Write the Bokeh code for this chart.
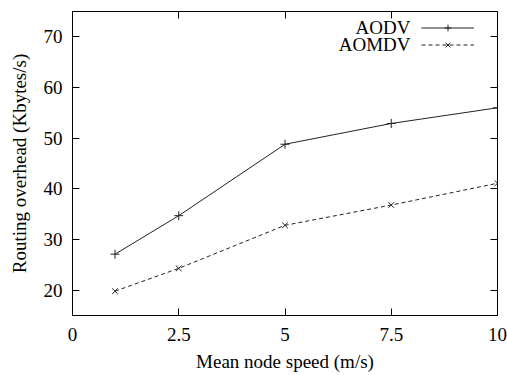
from bokeh.plotting import figure
from bokeh.models import (FixedTicker, LinearAxis, Legend, LegendItem, Label, Range1d)
from bokeh.embed import file_html
from bokeh.resources import INLINE

speeds = [1, 2.5, 5, 7.5, 10]
aodv = [27.1, 34.7, 48.8, 52.9, 56.0]
aomdv = [19.8, 24.3, 32.8, 36.8, 41.1]
x_ticks = [0, 2.5, 5, 7.5, 10]
x_tick_labels = ["0", "2.5", "5", "7.5", "10"]
y_ticks = [20, 30, 40, 50, 60, 70]

FONT = "Liberation Serif"
FS = "19px"

p = figure(width=507, height=375, output_backend="svg", toolbar_location=None,
           x_range=Range1d(0, 10), y_range=Range1d(15, 75),
           min_border_left=72, min_border_right=10, min_border_top=11, min_border_bottom=60)
p.grid.visible = False
p.outline_line_color = "black"
p.outline_line_width = 1
p.background_fill_color = "white"
p.border_fill_color = "white"

def style_axis(ax, ticks, labels=True):
    ax.ticker = FixedTicker(ticks=ticks)
    ax.major_tick_in = 7
    ax.major_tick_out = 0
    ax.minor_tick_line_color = None
    ax.axis_line_color = "black"
    ax.major_tick_line_color = "black"
    ax.major_label_text_font = FONT
    ax.major_label_text_font_size = FS
    ax.major_label_text_color = "black"
    ax.axis_label_text_font = FONT
    ax.axis_label_text_font_size = FS
    ax.axis_label_text_font_style = "normal"
    ax.axis_label_text_color = "black"
    if not labels:
        ax.major_label_text_font_size = "1px"
        ax.major_label_text_color = None
        ax.major_label_standoff = 0

xa = p.xaxis[0]
style_axis(xa, x_ticks)
xa.major_label_overrides = {t: l for t, l in zip(x_ticks, x_tick_labels)}
xa.axis_label = "Mean node speed (m/s)"
xa.major_label_standoff = 12
xa.axis_label_standoff = 7

ya = p.yaxis[0]
style_axis(ya, y_ticks)
ya.axis_label = "Routing overhead (Kbytes/s)"
ya.major_label_standoff = 10
ya.axis_label_standoff = 11

top = LinearAxis()
style_axis(top, x_ticks, labels=False)
p.add_layout(top, "above")
right = LinearAxis()
style_axis(right, y_ticks, labels=False)
p.add_layout(right, "right")

LC = "#222222"
l1 = p.line(speeds, aodv, line_color=LC, line_width=1)
s1 = p.scatter(speeds, aodv, marker="cross", size=9, line_color=LC, line_width=1)
l2 = p.line(speeds, aomdv, line_color=LC, line_width=1, line_dash="4 3")
s2 = p.scatter(speeds, aomdv, marker="x", size=8, line_color=LC, line_width=1)

legend = Legend(items=[LegendItem(label="AODV", renderers=[l1, s1]),
                       LegendItem(label="AOMDV", renderers=[l2, s2])],
                location=(349, 262), padding=0, margin=0, spacing=0,
                glyph_width=53, glyph_height=17, label_height=17, label_width=0,
                label_standoff=0, label_text_color=None, label_text_font_size="1px",
                border_line_alpha=0, background_fill_alpha=0)
p.add_layout(legend, "center")

for txt, yy in [("AODV", 288), ("AOMDV", 271)]:
    p.add_layout(Label(x=338, y=yy, x_units="screen", y_units="screen", text=txt,
                       text_align="right", text_baseline="middle",
                       text_font=FONT, text_font_size=FS, text_color="black"))

open("out.html", "w").write(file_html(p, INLINE))
